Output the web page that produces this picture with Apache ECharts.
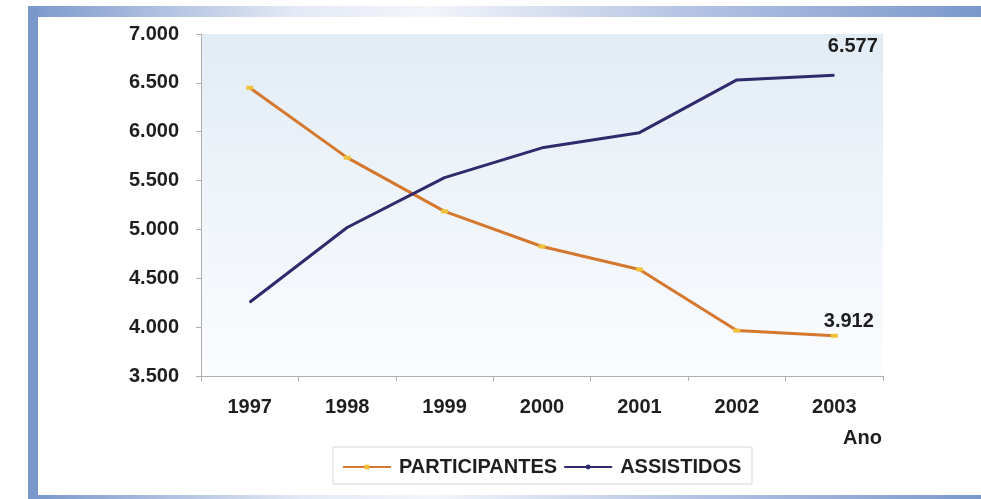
<!DOCTYPE html>
<html>
<head>
<meta charset="utf-8">
<script src="https://cdn.jsdelivr.net/npm/echarts@6/dist/echarts.min.js"></script>
<style>
  html, body { margin: 0; padding: 0; background: #ffffff; }
  #chart { width: 981px; height: 499px; }
</style>
</head>
<body>
<div id="chart"></div>
<script>
// Categories (years) and the two series
var anos = ['1997', '1998', '1999', '2000', '2001', '2002', '2003'];
var participantes = [6450, 5735, 5185, 4825, 4590, 3965, 3912];
var assistidos = [4255, 5020, 5530, 5835, 5990, 6530, 6577];
var nomes = ['PARTICIPANTES', 'ASSISTIDOS'];

function fmt(v) {
  return String(Math.round(v)).replace(/\B(?=(\d{3})+(?!\d))/g, '.');
}

var chart = echarts.init(document.getElementById('chart'), null, { renderer: 'canvas' });
var fonte = 'Liberation Sans, Arial, sans-serif';
var azul = '#7b98cc';
var texto = '#1e1e1e';

function faixa() {
  return new echarts.graphic.LinearGradient(0, 0, 1, 0, [
    { offset: 0, color: azul },
    { offset: 0.28, color: '#e4e9f5' },
    { offset: 0.42, color: '#f3f5fa' },
    { offset: 0.7, color: '#b3c2e3' },
    { offset: 1, color: azul }
  ]);
}

var lastIdx = anos.length - 1;

chart.setOption({
  animation: false,
  backgroundColor: '#ffffff',
  textStyle: { fontFamily: fonte },
  graphic: [
    { type: 'rect', shape: { x: 28, y: 6, width: 953, height: 11 }, style: { fill: faixa() }, z: 10 },
    { type: 'rect', shape: { x: 28, y: 6, width: 10, height: 493 }, style: { fill: azul }, z: 10 },
    { type: 'rect', shape: { x: 38, y: 495, width: 943, height: 4 }, style: { fill: faixa() }, z: 10 },
    { type: 'text', left: 843, top: 428, style: { text: 'Ano', font: 'bold 20px ' + fonte, fill: texto }, z: 10 },
    { type: 'rect', shape: { x: 333, y: 447, width: 419, height: 37 },
      style: { fill: '#ffffff', stroke: '#d6d6d6', lineWidth: 1 }, z: 1 }
  ],
  grid: {
    left: 201, right: 98, top: 34, bottom: 123,
    show: true, borderWidth: 0,
    backgroundColor: new echarts.graphic.LinearGradient(0, 0, 0, 1, [
      { offset: 0, color: '#e2ecf5' },
      { offset: 1, color: '#fbfcfe' }
    ])
  },
  legend: {
    data: nomes,
    left: 337, top: 452,
    itemGap: 6, itemWidth: 48, itemHeight: 6,
    textStyle: { fontFamily: fonte, fontWeight: 'bold', fontSize: 20, color: texto, padding: [0, 0, 0, 3] }
  },
  xAxis: {
    type: 'category',
    data: anos,
    boundaryGap: true,
    axisLine: { lineStyle: { color: '#b0b0b0', width: 1 } },
    axisTick: { show: true, length: 5, lineStyle: { color: '#b0b0b0' } },
    axisLabel: { margin: 21, fontFamily: fonte, fontWeight: 'bold', fontSize: 20, color: texto }
  },
  yAxis: {
    type: 'value',
    min: 3500, max: 7000, interval: 500,
    splitLine: { show: false },
    axisLine: { show: true, lineStyle: { color: '#b0b0b0', width: 1 } },
    axisTick: { show: true, length: 5, lineStyle: { color: '#b0b0b0' } },
    axisLabel: {
      margin: 22, fontFamily: fonte, fontWeight: 'bold', fontSize: 20, color: texto,
      formatter: function (v) { return fmt(v); }
    }
  },
  series: [
    {
      name: nomes[0],
      type: 'line',
      data: participantes,
      color: '#d5782f',
      lineStyle: { width: 3, color: '#d5782f' },
      symbol: 'rect', symbolSize: [7, 4],
      itemStyle: { color: '#f0c23a' },
      label: {
        show: true, position: [-7, -22],
        fontFamily: fonte, fontWeight: 'bold', fontSize: 20, color: texto,
        formatter: function (p) { return p.dataIndex === lastIdx ? fmt(p.value) : ''; }
      },
      z: 3
    },
    {
      name: nomes[1],
      type: 'line',
      data: assistidos,
      color: '#2f2a6c',
      lineStyle: { width: 3, color: '#2f2a6c' },
      symbol: 'circle', symbolSize: 1,
      itemStyle: { color: '#2f2a6c' },
      label: {
        show: true, position: [-6, -38],
        fontFamily: fonte, fontWeight: 'bold', fontSize: 20, color: texto,
        formatter: function (p) { return p.dataIndex === lastIdx ? fmt(p.value) : ''; }
      },
      z: 4
    }
  ]
});
</script>
</body>
</html>
